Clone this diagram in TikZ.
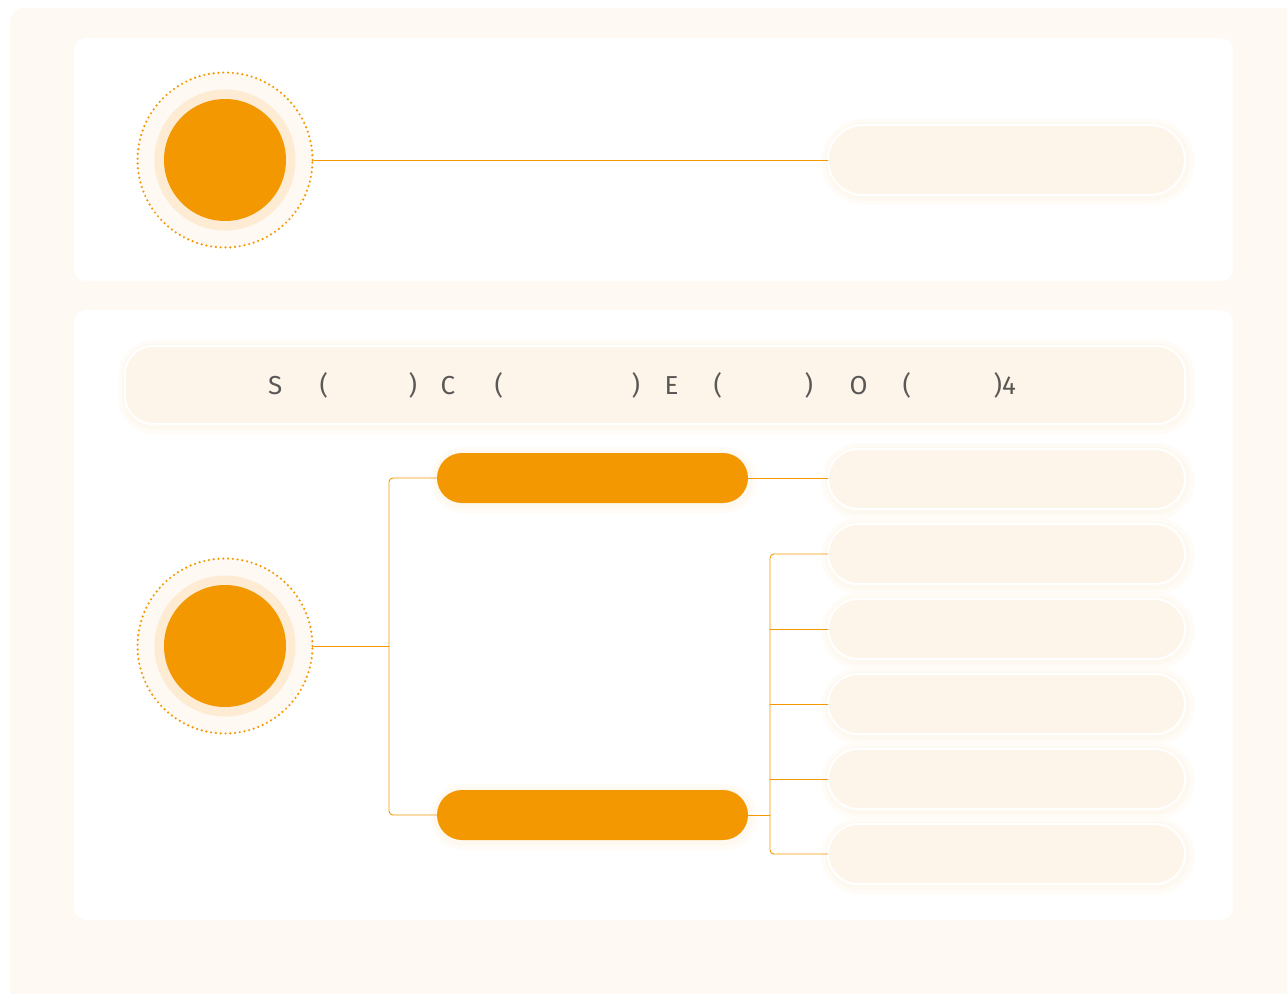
\documentclass[tikz,border=0pt]{standalone}
\usepackage{fontspec}
\setmainfont{Fira Sans}
\usetikzlibrary{positioning,calc}
\definecolor{amber}{HTML}{F39800}
\definecolor{cream}{HTML}{FDF5E9}
\definecolor{halo}{HTML}{FDEBD3}
\definecolor{paper}{HTML}{FEF9F2}
\definecolor{ink}{HTML}{5A5857}

\begin{document}
\begin{tikzpicture}[x=1pt, y=-1pt, line cap=round,
  panel/.style={fill=white, rounded corners=12pt},
  conn/.style={draw=amber, line width=0.9pt},
  glow/.style={preaction={draw=amber!3, line width=16pt, transform canvas={shift={(1.5pt,-2pt)}}},
               preaction={draw=amber!6, line width=8pt, transform canvas={shift={(1pt,-1.5pt)}}}},
  pill/.style={rectangle, rounded corners=30pt, minimum width=357pt, minimum height=60pt,
               fill=cream, draw=white, line width=2pt, outer sep=0pt, glow},
  tag/.style={rectangle, rounded corners=25pt, minimum width=311pt, minimum height=50pt,
              fill=amber, outer sep=0pt, glow},
  hubdots/.style={circle, minimum size=175pt, fill=paper, draw=amber, line width=2.4pt,
                  dash pattern=on 0pt off 4.8pt, inner sep=0pt},
  hubring/.style={circle, minimum size=141pt, fill=halo, inner sep=0pt},
  hubcore/.style={circle, minimum size=122pt, fill=amber, inner sep=0pt}]

\useasboundingbox (0,0) rectangle (1287,993);

% backdrop and panels
\fill[paper, rounded corners=14pt] (10,8) rectangle (1310,1010);
\fill[panel] (74,38) rectangle (1233,281);
\fill[panel] (74,310) rectangle (1233,920);

% top panel
\node[hubdots] (hubA) at (225,160) {};
\node[hubring] (hubAring) at (hubA) {};
\node[hubcore] (hubAcore) at (hubA) {};
\node[pill, minimum height=70pt, rounded corners=35pt] (boxA) at (1006.5,160) {};
\draw[conn] (hubA.east) -- (boxA.west);

% heading bar
\node[pill, minimum width=1060pt, minimum height=78pt, rounded corners=28pt] (bar) at (655,385) {};
\node[text=ink, anchor=west, inner sep=0pt, font=\fontsize{26}{26}\selectfont] (caption) at (268,385)
  {\rlap{S}\hspace{51.5pt}\rlap{(}\hspace{89pt}\rlap{)}\hspace{32pt}\rlap{C}\hspace{54pt}%
   \rlap{(}\hspace{137pt}\rlap{)}\hspace{33pt}\rlap{E}\hspace{49pt}\rlap{(}\hspace{91pt}%
   \rlap{)}\hspace{45pt}\rlap{O}\hspace{53pt}\rlap{(}\hspace{91pt})4};

% bottom panel
\node[hubdots] (hubB) at (225,646) {};
\node[hubring] (hubBring) at (hubB) {};
\node[hubcore] (hubBcore) at (hubB) {};

\node[tag] (tagA) at (592.5,478) {};
\node[tag] (tagB) at (592.5,815) {};

\node[pill] (r1) at (1006.5,479) {};
\node[pill, below=15pt of r1] (r2) {};
\node[pill, below=15pt of r2] (r3) {};
\node[pill, below=15pt of r3] (r4) {};
\node[pill, below=15pt of r4] (r5) {};
\node[pill, below=15pt of r5] (r6) {};

\coordinate (forkA) at (389,646);
\coordinate (forkB) at (770,815);

\draw[conn] (hubB.east) -- (forkA);
\draw[conn, rounded corners=4pt] (tagA.west) -| (forkA) |- (tagB.west);
\draw[conn] (tagA.east) -- (r1.west |- tagA.east);

\draw[conn] (tagB.east) -- (forkB);
\draw[conn, rounded corners=4pt] (r2.west) -| (forkB) |- (r6.west);
\draw[conn] (r3.west) -- (r3.west -| forkB);
\draw[conn] (r4.west) -- (r4.west -| forkB);
\draw[conn] (r5.west) -- (r5.west -| forkB);

\end{tikzpicture}
\end{document}
